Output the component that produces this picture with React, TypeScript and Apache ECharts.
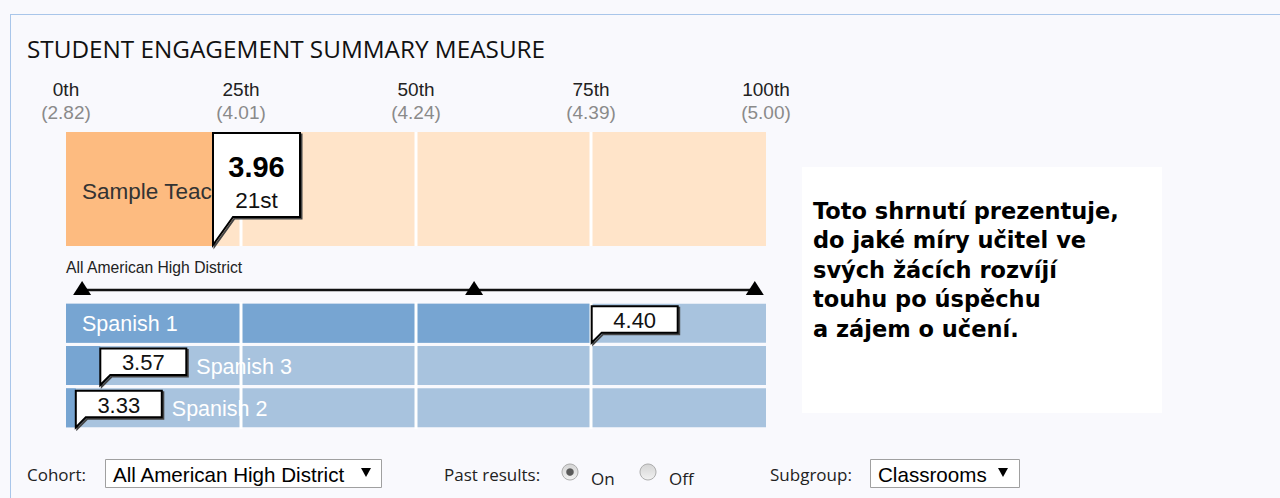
import React, { useEffect, useRef } from "react";
import * as echarts from "echarts";

// ---- data ----
const percentileTicks = [0, 25, 50, 75, 100];
const tickScores = ["2.82", "4.01", "4.24", "4.39", "5.00"];
const teacherNames = ["Sample Teacher"];
const teacherScores = [3.96];
const teacherPercentiles = [21];
const teacherRanks = ["21st"];
const districtName = "All American High District";
const districtMarks = [2.3, 58.3, 98.4];
const classNames = ["Spanish 1", "Spanish 3", "Spanish 2"];
const classScores = [4.4, 3.57, 3.33];
const classPercentiles = [75.1, 4.9, 1.4];
const separators = [25, 50, 75];
const titleText = "STUDENT ENGAGEMENT SUMMARY MEASURE";
const noteLines = [
  "Toto shrnutí prezentuje,",
  "do jaké míry učitel ve",
  "svých žácích rozvíjí",
  "touhu po úspěchu",
  "a zájem o učení.",
];
const cohortValue = "All American High District";
const subgroupValue = "Classrooms";

const ARIAL = '"Liberation Sans", Arial, sans-serif';
const SEGOE = '"Open Sans", "Noto Sans", sans-serif';

function callout(x: number, top: number, bot: number, tip: number, w: number, tail: number, texts: any[]) {
  const pts = [
    [x, top],
    [x + w, top],
    [x + w, bot],
    [x + tail, bot],
    [x, tip],
  ];
  const shadowPts = pts.map((p) => [p[0] + 1.5, p[1] + 1.5]);
  return {
    type: "group",
    children: [
      { type: "polygon", shape: { points: shadowPts }, style: { fill: "none", stroke: "#444", lineWidth: 2 } },
      { type: "polygon", shape: { points: pts }, style: { fill: "#fff", stroke: "#000", lineWidth: 2, lineJoin: "miter" } },
      ...texts,
    ],
  };
}

function radio(cx: number, cy: number, checked: boolean) {
  const els: any[] = [
    {
      type: "circle",
      shape: { cx, cy, r: 8 },
      style: {
        fill: new echarts.graphic.LinearGradient(0, 0, 0, 1, [
          { offset: 0, color: "#d4d4d4" },
          { offset: 1, color: "#f2f2f2" },
        ]),
        stroke: "#adadad",
        lineWidth: 1,
      },
      silent: true,
    },
  ];
  if (checked) els.push({ type: "circle", shape: { cx, cy, r: 3.8 }, style: { fill: "#5a5a5a" }, silent: true });
  return els;
}

export default function App() {
  const ref = useRef<HTMLDivElement>(null);
  useEffect(() => {
    if (!ref.current) return;
    const chart = echarts.init(ref.current, undefined, { renderer: "svg" });
    const gridLeft = 66;
    const gridWidth = 700;

    const option: any = {
      animation: false,
      backgroundColor: "#f9f9fd",
      grid: [
        { left: gridLeft, width: gridWidth, top: 132, height: 114 },
        { left: gridLeft, width: gridWidth, top: 283, height: 14 },
        { left: gridLeft, width: gridWidth, top: 302, height: 127 },
      ],
      xAxis: [
        {
          gridIndex: 0,
          type: "value",
          min: 0,
          max: 100,
          interval: 25,
          position: "top",
          axisLine: { show: false },
          axisTick: { show: false },
          splitLine: { show: false },
          axisLabel: {
            show: true,
            showMinLabel: true,
            showMaxLabel: true,
            margin: 8,
            formatter: (v: number) => {
              const i = percentileTicks.indexOf(v);
              return `{a|${v}th}\n{b|(${tickScores[i]})}`;
            },
            rich: {
              a: { fontSize: 19, fontFamily: ARIAL, color: "#222", lineHeight: 23, align: "center" },
              b: { fontSize: 19, fontFamily: ARIAL, color: "#8a8a8a", lineHeight: 23, align: "center" },
            },
          },
        },
        { gridIndex: 1, type: "value", min: 0, max: 100, show: false },
        { gridIndex: 2, type: "value", min: 0, max: 100, show: false },
      ],
      yAxis: [
        { gridIndex: 0, type: "category", data: teacherNames, show: false },
        { gridIndex: 1, type: "value", min: -1, max: 1, show: false },
        { gridIndex: 2, type: "category", data: classNames, inverse: true, show: false },
      ],
      series: [
        // teacher bar
        {
          type: "bar",
          xAxisIndex: 0,
          yAxisIndex: 0,
          data: teacherNames.map(() => 100),
          barWidth: "100%",
          barGap: "-100%",
          itemStyle: { color: "#ffe4c9" },
          silent: true,
          z: 1,
        },
        {
          type: "bar",
          xAxisIndex: 0,
          yAxisIndex: 0,
          data: teacherPercentiles,
          barWidth: "100%",
          barGap: "-100%",
          itemStyle: { color: "#fdbb80" },
          silent: true,
          z: 2,
        },
        {
          type: "custom",
          xAxisIndex: 0,
          yAxisIndex: 0,
          z: 3,
          silent: true,
          data: teacherPercentiles.map((p, i) => [p, i]),
          renderItem: (params: any, api: any) => {
            const pt = api.coord([api.value(0), api.value(1)]);
            const cs = params.coordSys;
            return {
              type: "text",
              style: {
                text: teacherNames[params.dataIndex],
                x: cs.x + 16,
                y: pt[1] + 2,
                fill: "#333",
                fontSize: 22.5,
                fontFamily: ARIAL,
                verticalAlign: "middle",
              },
            };
          },
        },
        {
          type: "custom",
          xAxisIndex: 0,
          yAxisIndex: 0,
          z: 4,
          silent: true,
          data: separators.map((s) => [s, 0]),
          renderItem: (params: any, api: any) => {
            const x = api.coord([api.value(0), api.value(1)])[0];
            const cs = params.coordSys;
            return { type: "line", shape: { x1: x, y1: cs.y, x2: x, y2: cs.y + cs.height }, style: { stroke: "#fff", lineWidth: 3 } };
          },
        },
        {
          type: "custom",
          xAxisIndex: 0,
          yAxisIndex: 0,
          z: 5,
          silent: true,
          data: teacherPercentiles.map((p, i) => [p, i]),
          renderItem: (params: any, api: any) => {
            const x = api.coord([api.value(0), api.value(1)])[0];
            const cs = params.coordSys;
            const i = params.dataIndex;
            const top = cs.y + 1;
            const bot = cs.y + 85;
            const tip = cs.y + cs.height - 1;
            const w = 87;
            return callout(x, top, bot, tip, w, 20, [
              {
                type: "text",
                style: {
                  text: teacherScores[i].toFixed(2),
                  x: x + w / 2,
                  y: top + 34,
                  align: "center",
                  verticalAlign: "middle",
                  fontSize: 29,
                  fontWeight: "bold",
                  fontFamily: ARIAL,
                  fill: "#000",
                },
              },
              {
                type: "text",
                style: {
                  text: teacherRanks[i],
                  x: x + w / 2,
                  y: top + 67,
                  align: "center",
                  verticalAlign: "middle",
                  fontSize: 22.5,
                  fontFamily: ARIAL,
                  fill: "#111",
                },
              },
            ]);
          },
        },
        // district line
        {
          type: "line",
          xAxisIndex: 1,
          yAxisIndex: 1,
          data: districtMarks.map((m) => [m, 0]),
          symbol: "triangle",
          symbolSize: [18, 14],
          symbolOffset: [0, -2],
          lineStyle: { color: "#111", width: 2.5 },
          itemStyle: { color: "#000" },
          silent: true,
          z: 3,
        },
        // class bars
        {
          type: "bar",
          xAxisIndex: 2,
          yAxisIndex: 2,
          data: classNames.map(() => 100),
          barWidth: 39,
          barGap: "-100%",
          itemStyle: { color: "#a8c3de" },
          silent: true,
          z: 1,
        },
        {
          type: "bar",
          xAxisIndex: 2,
          yAxisIndex: 2,
          data: classPercentiles,
          barWidth: 39,
          barGap: "-100%",
          itemStyle: { color: "#77a5d2" },
          silent: true,
          z: 2,
        },
        {
          type: "custom",
          xAxisIndex: 2,
          yAxisIndex: 2,
          z: 3,
          silent: true,
          data: classPercentiles.map((p, i) => [p, i]),
          renderItem: (params: any, api: any) => {
            const pt = api.coord([api.value(0), api.value(1)]);
            const cs = params.coordSys;
            const cx = pt[0];
            const w = 86;
            let lx = cs.x + 16;
            if (lx + 100 > cx && lx < cx + w) lx = cx + w + 10;
            return {
              type: "text",
              style: {
                text: classNames[params.dataIndex],
                x: lx,
                y: pt[1] + 1,
                fill: "#fff",
                fontSize: 21.5,
                fontFamily: ARIAL,
                verticalAlign: "middle",
              },
            };
          },
        },
        {
          type: "custom",
          xAxisIndex: 2,
          yAxisIndex: 2,
          z: 4,
          silent: true,
          data: separators.map((s) => [s, 0]),
          renderItem: (params: any, api: any) => {
            const x = api.coord([api.value(0), api.value(1)])[0];
            const cs = params.coordSys;
            return { type: "line", shape: { x1: x, y1: cs.y, x2: x, y2: cs.y + cs.height }, style: { stroke: "#fff", lineWidth: 3 } };
          },
        },
        {
          type: "custom",
          xAxisIndex: 2,
          yAxisIndex: 2,
          z: 5,
          silent: true,
          data: classPercentiles.map((p, i) => [p, i]),
          renderItem: (params: any, api: any) => {
            const pt = api.coord([api.value(0), api.value(1)]);
            const x = pt[0];
            const rowTop = pt[1] - 19.5;
            const top = rowTop + 2.5;
            const bot = top + 26.5;
            const tip = rowTop + 39;
            const w = 86;
            return callout(x, top, bot, tip, w, 10, [
              {
                type: "text",
                style: {
                  text: classScores[params.dataIndex].toFixed(2),
                  x: x + w / 2,
                  y: (top + bot) / 2 + 1,
                  align: "center",
                  verticalAlign: "middle",
                  fontSize: 22,
                  fontFamily: ARIAL,
                  fill: "#111",
                },
              },
            ]);
          },
        },
      ],
      graphic: [
        // border
        { type: "line", shape: { x1: 10, y1: 14.5, x2: 1280, y2: 14.5 }, style: { stroke: "#a9c6ea", lineWidth: 1 }, silent: true },
        { type: "line", shape: { x1: 10.5, y1: 14, x2: 10.5, y2: 498 }, style: { stroke: "#a9c6ea", lineWidth: 1 }, silent: true },
        {
          type: "text",
          x: 27,
          y: 48,
          style: { text: titleText, fontSize: 24.3, fontFamily: SEGOE, fill: "#111", verticalAlign: "middle" },
          silent: true,
        },
        {
          type: "text",
          x: 66,
          y: 267,
          style: { text: districtName, fontSize: 15.7, fontFamily: ARIAL, fill: "#222", verticalAlign: "middle" },
          silent: true,
        },
        // note box
        { type: "rect", shape: { x: 802, y: 167, width: 360, height: 246 }, style: { fill: "#ffffff" }, silent: true },
        {
          type: "text",
          x: 813,
          y: 196,
          style: {
            text: noteLines.join("\n"),
            fontSize: 22.5,
            fontWeight: "bold",
            fontFamily: '"DejaVu Sans", Verdana, sans-serif',
            lineHeight: 29.5,
            fill: "#000",
            verticalAlign: "top",
          },
          silent: true,
        },
        // controls
        { type: "text", x: 27, y: 474, style: { text: "Cohort:", fontSize: 17, fontFamily: SEGOE, fill: "#222", verticalAlign: "middle" }, silent: true },
        { type: "rect", shape: { x: 105.5, y: 459.5, width: 276, height: 28 }, style: { fill: "#fff", stroke: "#a0a0a0", lineWidth: 1 }, silent: true },
        { type: "text", x: 113, y: 474, style: { text: cohortValue, fontSize: 20.6, fontFamily: ARIAL, fill: "#000", verticalAlign: "middle" }, silent: true },
        { type: "polygon", shape: { points: [[361, 468], [371, 468], [366, 477]] }, style: { fill: "#000" }, silent: true },
        { type: "text", x: 444, y: 474, style: { text: "Past results:", fontSize: 17, fontFamily: SEGOE, fill: "#222", verticalAlign: "middle" }, silent: true },
        ...radio(570, 472, true),
        { type: "text", x: 591, y: 478, style: { text: "On", fontSize: 17, fontFamily: SEGOE, fill: "#222", verticalAlign: "middle" }, silent: true },
        ...radio(648, 472, false),
        { type: "text", x: 669, y: 478, style: { text: "Off", fontSize: 17, fontFamily: SEGOE, fill: "#222", verticalAlign: "middle" }, silent: true },
        { type: "text", x: 770, y: 474, style: { text: "Subgroup:", fontSize: 17, fontFamily: SEGOE, fill: "#222", verticalAlign: "middle" }, silent: true },
        { type: "rect", shape: { x: 870.5, y: 459.5, width: 149, height: 28 }, style: { fill: "#fff", stroke: "#a0a0a0", lineWidth: 1 }, silent: true },
        { type: "text", x: 878, y: 474, style: { text: subgroupValue, fontSize: 20.6, fontFamily: ARIAL, fill: "#000", verticalAlign: "middle" }, silent: true },
        { type: "polygon", shape: { points: [[998, 468], [1008, 468], [1003, 477]] }, style: { fill: "#000" }, silent: true },
      ],
    };
    chart.setOption(option);
    return () => chart.dispose();
  }, []);
  return <div ref={ref} style={{ position: "absolute", left: 0, top: 0, width: 1280, height: 498 }} />;
}
